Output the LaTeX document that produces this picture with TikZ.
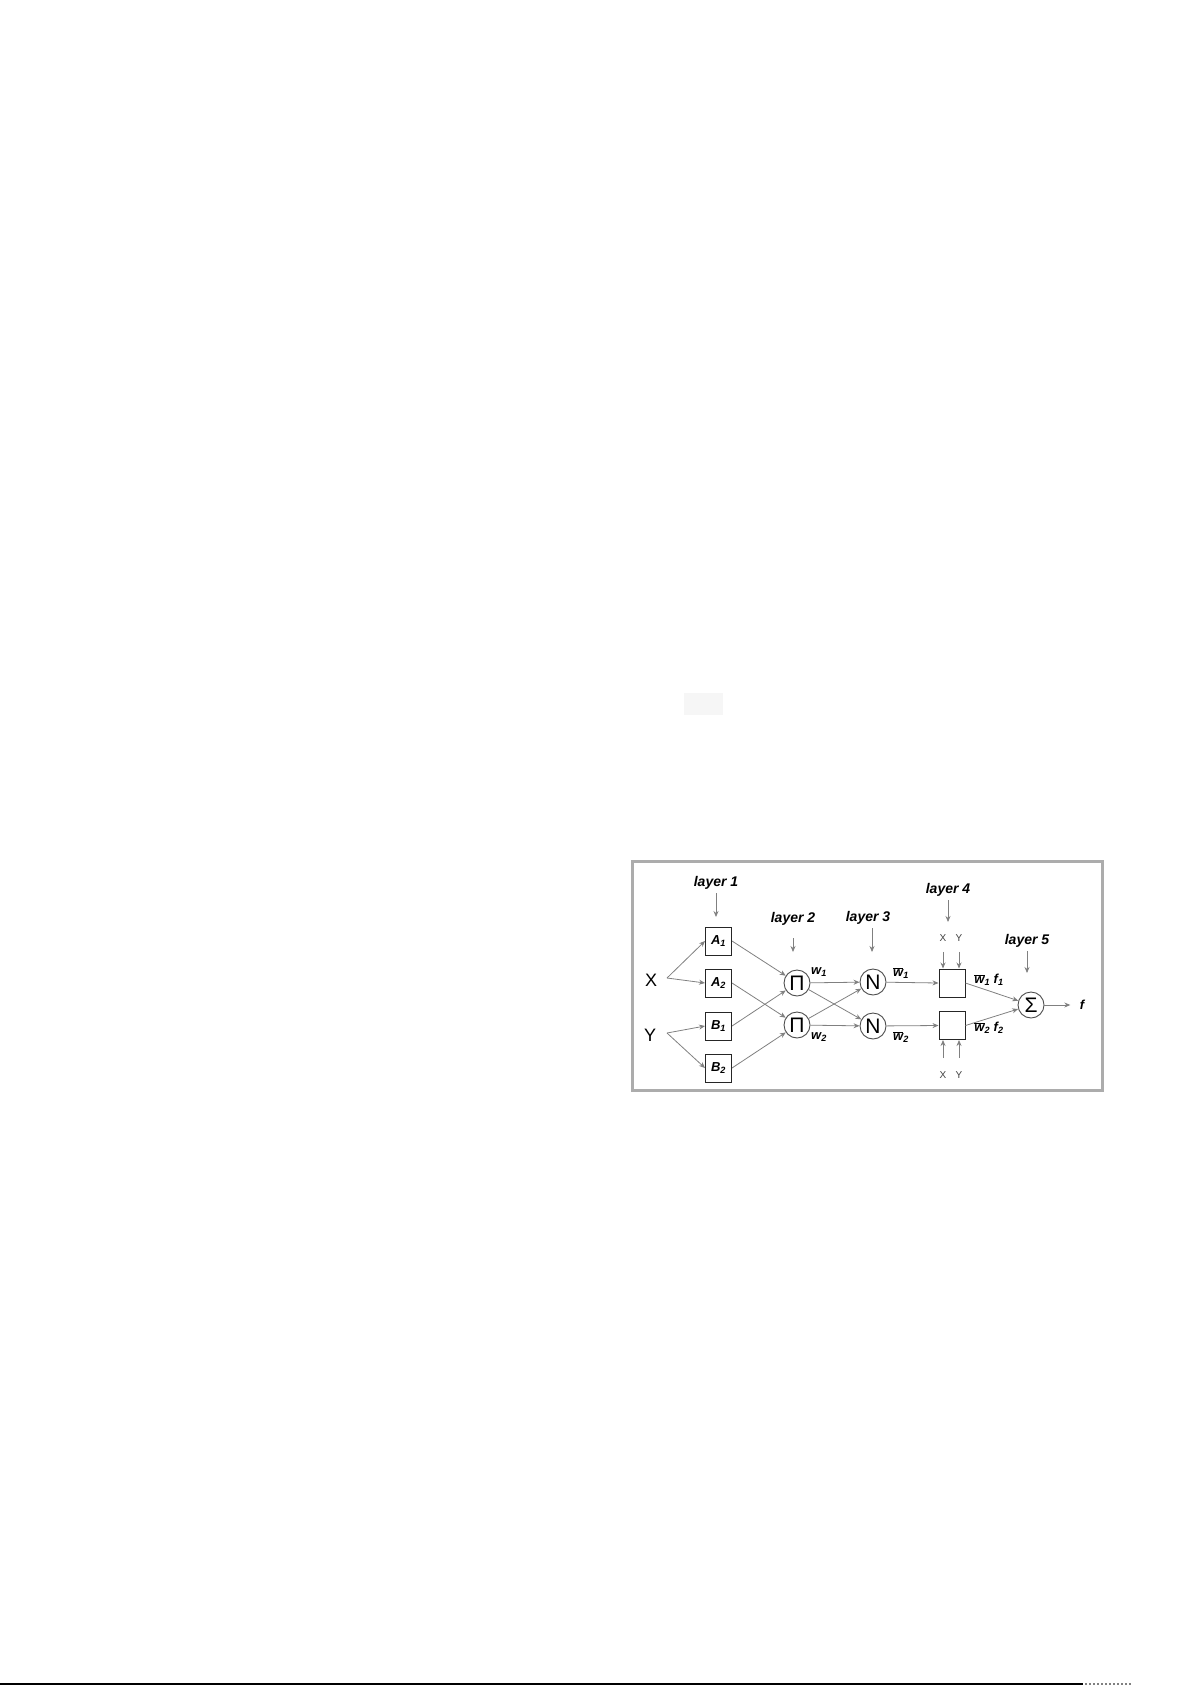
\documentclass[tikz,border=0pt]{standalone}
\usepackage{fontspec}
\setsansfont{Liberation Sans}
\usetikzlibrary{positioning,arrows.meta}

\begin{document}
\begin{tikzpicture}[x=1pt,y=-1pt,
     % define styles
     clear/.style={
         draw=none,
         fill=none
     },
     mf/.style={
         draw=black!85, line width=1pt,
         minimum width=26pt, minimum height=28pt, inner sep=0pt,
         font=\sffamily\bfseries\itshape\fontsize{13}{13}\selectfont
     },
     rule/.style={
         draw=black!85, line width=1pt,
         minimum width=26pt, minimum height=28pt, inner sep=0pt
     },
     op/.style={
         circle, draw=black!70, line width=0.9pt,
         minimum size=26pt, inner sep=0pt,
         font=\sffamily\fontsize{21}{21}\selectfont
     },
     layer/.style={font=\sffamily\bfseries\itshape\fontsize{14}{14}\selectfont},
     lbl/.style={font=\sffamily\bfseries\itshape\fontsize{13}{13}\selectfont},
     small/.style={font=\sffamily\fontsize{10}{10}\selectfont, text=black!75},
     big/.style={font=\sffamily\fontsize{18}{18}\selectfont},
     conn/.style={draw=black!50, line width=0.8pt, ->},
     >={Stealth[length=6pt,width=5pt]}
]
\useasboundingbox (0,0) rectangle (1192,1685);

% page marks
\fill[gray!7] (684,693) rectangle (723,715);
\draw[black, line width=2pt] (0,1684) -- (1083,1684);
\draw[gray, line width=2pt, dotted] (1085,1684) -- (1131,1684);

% frame
\draw[gray!65, line width=3pt] (632.5,861) rectangle (1102.5,1090.5);

% inputs
\node[big] (X) at (651,980) {X};
\node[big] (Y) at (650,1035) {Y};
\coordinate (xs) at (667,978);
\coordinate (ys) at (667,1033);

% layer 1
\node[layer] (l1) at (716,883) {layer 1};
\coordinate (l1e) at (716,917);
\node[mf] (A1) at (718.5,941) {A\textsubscript{1}};
\node[mf] (A2) at (718.5,983) {A\textsubscript{2}};
\node[mf] (B1) at (718.5,1026) {B\textsubscript{1}};
\node[mf] (B2) at (718.5,1068) {B\textsubscript{2}};

% layer 2
\node[layer] (l2) at (793,919) {layer 2};
\coordinate (l2e) at (793,952);
\node[op] (P1) at (797,983) {Π};
\node[op] (P2) at (797,1025) {Π};
\node[lbl] (w1) at (819,972) {w\textsubscript{1}};
\node[lbl] (w2) at (819,1037) {w\textsubscript{2}};

% layer 3
\node[layer] (l3) at (868,918) {layer 3};
\coordinate (l3e) at (872,952);
\node[op] (N1) at (873,982) {N};
\node[op] (N2) at (873,1026) {N};
\node[lbl] (nw1) at (901,973) {\(\overline{\mbox{w}}\)\textsubscript{1}};
\node[lbl] (nw2) at (901,1037) {\(\overline{\mbox{w}}\)\textsubscript{2}};

% layer 4
\node[layer] (l4) at (948,890) {layer 4};
\coordinate (l4e) at (948,922);
\node[rule] (F1) at (952,983) {};
\node[rule] (F2) at (952,1025.5) {};
\node[small] (xt) at (943,938) {X};
\node[small] (yt) at (959,938) {Y};
\node[small] (xb) at (943,1075) {X};
\node[small] (yb) at (959,1075) {Y};
\node[lbl] (o1) at (989,980) {\(\overline{\mbox{w}}\)\textsubscript{1} f\textsubscript{1}};
\node[lbl] (o2) at (989,1028) {\(\overline{\mbox{w}}\)\textsubscript{2} f\textsubscript{2}};

% layer 5
\node[layer] (l5) at (1027,941) {layer 5};
\coordinate (l5e) at (1027,973);
\node[op] (S) at (1031,1005) {Σ};
\node[lbl] (f) at (1082,1005) {f};

% layer arrows
\draw[conn] (l1) -- (l1e);
\draw[conn, shorten <=9pt] (l2) -- (l2e);
\draw[conn] (l3.south -| l3e) -- (l3e);
\draw[conn] (l4) -- (l4e);
\draw[conn] (l5) -- (l5e);

% connections
\draw[conn] (xs) -- (A1.west);
\draw[conn] (xs) -- (A2.west);
\draw[conn] (ys) -- (B1.west);
\draw[conn] (ys) -- (B2.west);
\draw[conn] (A1.east) -- (P1);
\draw[conn] (B1.east) -- (P1);
\draw[conn] (A2.east) -- (P2);
\draw[conn] (B2.east) -- (P2);
\draw[conn] (P1) -- (N1);
\draw[conn] (P1) -- (N2);
\draw[conn] (P2) -- (N1);
\draw[conn] (P2) -- (N2);
\draw[conn] (N1) -- (F1.west);
\draw[conn] (N2) -- (F2.west);
\draw[conn, shorten <=7pt] (xt) -- (xt |- F1.north);
\draw[conn, shorten <=7pt] (yt) -- (yt |- F1.north);
\draw[conn, shorten <=10pt] (xb) -- (xb |- F2.south);
\draw[conn, shorten <=10pt] (yb) -- (yb |- F2.south);
\draw[conn] (F1.east) -- (S);
\draw[conn] (F2.east) -- (S);
\draw[conn, shorten >=6pt] (S) -- (f);
\end{tikzpicture}
\end{document}
